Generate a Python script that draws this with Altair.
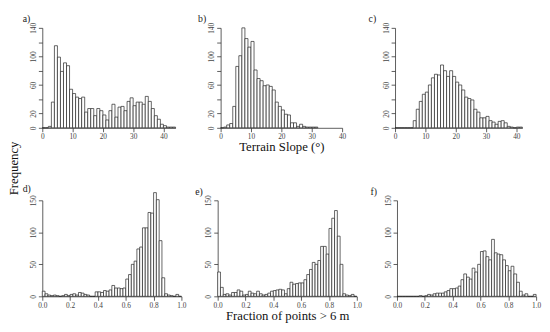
import altair as alt
import pandas as pd

FONT = "Liberation Serif"

# ---- data (counts per bin) ----
slope_bin = 1.0
frac_bin = 0.02

a_counts = [0, 0, 2, 36, 115, 99, 79, 91, 87, 54, 48, 43, 41, 43, 22, 27, 27, 17, 27, 24,
            18, 11, 24, 33, 15, 29, 30, 24, 37, 42, 31, 36, 36, 33, 44, 37, 27, 17, 12, 5,
            3, 1, 1, 1]
b_counts = [0, 1, 4, 6, 30, 86, 101, 140, 125, 113, 121, 81, 69, 66, 59, 60, 58, 53, 36, 30,
            25, 19, 18, 7, 7, 2, 5, 2, 1, 1, 1, 1]
c_counts = [0, 0, 0, 0, 0, 0, 10, 26, 37, 47, 50, 60, 70, 75, 74, 88, 80, 72, 80, 72,
            64, 60, 53, 43, 41, 39, 26, 22, 14, 14, 16, 10, 8, 5, 9, 10, 7, 2, 1, 0,
            1, 1]
d_counts = [8, 4, 2, 1, 2, 1, 0, 1, 3, 1, 3, 4, 2, 6, 5, 3, 2, 0, 0, 7,
            7, 6, 9, 8, 10, 17, 13, 13, 12, 13, 27, 34, 50, 55, 74, 77, 107, 107, 131, 130,
            162, 151, 87, 29, 4, 2, 1, 0, 3, 0]
e_counts = [38, 14, 3, 4, 2, 6, 6, 10, 8, 2, 3, 8, 5, 4, 8, 4, 2, 3, 5, 8,
            9, 10, 11, 10, 4, 12, 22, 19, 20, 21, 21, 26, 34, 42, 53, 50, 56, 78, 78, 66,
            106, 122, 134, 94, 50, 4, 2, 1, 3, 0]
f_counts = [0, 0, 0, 0, 0, 0, 0, 0, 1, 0, 1, 3, 2, 4, 5, 5, 5, 7, 9, 12,
            12, 13, 16, 26, 35, 30, 27, 44, 38, 50, 70, 71, 62, 57, 89, 68, 66, 65, 57, 48,
            40, 47, 35, 22, 8, 2, 4, 0, 0, 3]

top_x_ticks = [0, 10, 20, 30, 40]
top_y_ticks = [0, 20, 40, 60, 80, 100, 120, 140]
top_y_labelled = [0, 20, 60, 100, 140]
bot_x_ticks = [0.0, 0.2, 0.4, 0.6, 0.8, 1.0]
bot_y_ticks = [0, 50, 100, 150]

x_title_top = "Terrain Slope (°)"
x_title_bot = "Fraction of points > 6 m"
y_title = "Frequency"


def frame(counts, w):
    return pd.DataFrame({
        "lo": [i * w for i in range(len(counts))],
        "hi": [(i + 1) * w for i in range(len(counts))],
        "n": counts,
    })


def panel(label, counts, w, xdom, xticks, xfmt, ydom, yticks, ylab, width, height,
          label_dx=-21, xtitle=None):
    xaxis_kw = dict(values=xticks, format=xfmt, title=xtitle, grid=False,
                    labelFont=FONT, labelFontSize=7.5, labelColor="#444",
                    tickSize=4, tickColor="#333", domainColor="#333", domainWidth=0.8,
                    tickWidth=0.8, labelPadding=1, labelFlush=False,
                    titleFont=FONT, titleFontSize=13, titleFontWeight="normal",
                    titleColor="#111", titlePadding=1)
    expr = "indexof(" + str(ylab) + ", datum.value) >= 0 ? datum.label : ''"
    yaxis_kw = dict(values=yticks, labelExpr=expr, grid=False, title=None,
                    labelFont=FONT, labelFontSize=7.5, labelColor="#444",
                    labelAngle=270, tickSize=4, tickColor="#333", domainColor="#333",
                    domainWidth=0.8, tickWidth=0.8, labelPadding=1, labelFlush=False)
    return alt.Chart(frame(counts, w)).mark_rect(
        fill="white", stroke="#222", strokeWidth=0.7
    ).encode(
        x=alt.X("lo:Q", scale=alt.Scale(domain=xdom, nice=False, zero=False),
                axis=alt.Axis(**xaxis_kw)),
        x2="hi:Q",
        y=alt.Y("n:Q", scale=alt.Scale(domain=ydom, nice=False), axis=alt.Axis(**yaxis_kw)),
        y2=alt.datum(0),
    ).properties(
        width=width, height=height,
        title=alt.TitleParams(text=label, anchor="start", frame="group", dx=label_dx,
                              offset=-2, font=FONT, fontSize=10, fontWeight="normal",
                              color="#222"),
    )


pa = panel("a)", a_counts, slope_bin, [0, 44], top_x_ticks, "d", [0, 140], top_y_ticks,
           top_y_labelled, 136, 102, label_dx=-20)
pb = panel("b)", b_counts, slope_bin, [0, 40], top_x_ticks, "d", [0, 140], top_y_ticks,
           top_y_labelled, 124, 102, label_dx=-23, xtitle=x_title_top)
pc = panel("c)", c_counts, slope_bin, [0, 42], top_x_ticks, "d", [0, 140], top_y_ticks,
           top_y_labelled, 130, 102, label_dx=-27)
pd_ = panel("d)", d_counts, frac_bin, [0, 1], bot_x_ticks, ".1f", [0, 150], bot_y_ticks,
            bot_y_ticks, 142, 98, label_dx=-20)
pe = panel("e)", e_counts, frac_bin, [0, 1], bot_x_ticks, ".1f", [0, 150], bot_y_ticks,
           bot_y_ticks, 142, 98, label_dx=-23, xtitle=x_title_bot)
pf = panel("f)", f_counts, frac_bin, [0, 1], bot_x_ticks, ".1f", [0, 150], bot_y_ticks,
           bot_y_ticks, 142, 98, label_dx=-27)

row1 = alt.hconcat(pa, pb, pc, spacing=21)
row2 = alt.hconcat(pd_, pe, pf, spacing=7)

chart = alt.vconcat(row1, row2, spacing=30).properties(
    padding={"left": 0, "top": 2, "right": 0, "bottom": 0},
    title=alt.TitleParams(text=y_title, orient="left", anchor="middle", offset=1,
                          font=FONT, fontSize=13, fontWeight="normal", color="#111"),
).configure_view(stroke="transparent")

chart.save("out.html", embed_options={"renderer": "svg", "actions": False})
